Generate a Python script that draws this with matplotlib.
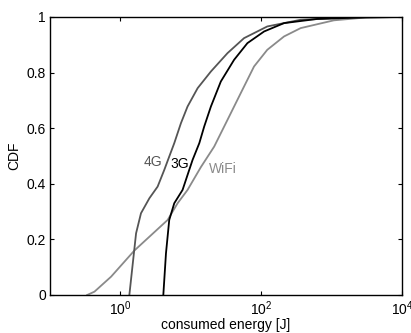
import matplotlib.pyplot as plt

plt.rcParams['font.family'] = ['Liberation Sans', 'DejaVu Sans']

# CDF curves of consumed energy per network type (energy in J, cumulative fraction)
wifi_x = [0.337, 0.428, 0.738, 1.58, 4.69, 6.49, 8.99, 13.9, 21.5, 33.2, 51.2, 79.1, 122, 211, 363, 1077, 3000, 10000]
wifi_y = [0.0, 0.012, 0.066, 0.16, 0.27, 0.33, 0.378, 0.46, 0.534, 0.63, 0.726, 0.822, 0.882, 0.93, 0.96, 0.988, 0.998, 1.0]

g4_x = [1.34, 1.50, 1.67, 1.96, 2.58, 3.38, 4.20, 4.94, 5.82, 7.24, 8.99, 12.5, 19.3, 33.2, 57.1, 122, 363, 1854, 10000]
g4_y = [0.0, 0.114, 0.222, 0.294, 0.348, 0.39, 0.45, 0.498, 0.546, 0.618, 0.678, 0.744, 0.804, 0.87, 0.924, 0.966, 0.99, 0.998, 1.0]

g3_x = [4.07, 4.44, 4.94, 5.82, 7.64, 9.50, 10.6, 13.2, 15.5, 19.3, 26.7, 41.2, 63.7, 110, 211, 625, 3190, 10000]
g3_y = [0.0, 0.15, 0.27, 0.33, 0.378, 0.45, 0.486, 0.546, 0.606, 0.678, 0.768, 0.846, 0.906, 0.948, 0.978, 0.993, 0.999, 1.0]

fig = plt.figure(figsize=(4.11, 3.33), dpi=100)
ax = fig.add_axes([50 / 411, 1 - 295 / 333, 352 / 411, 278 / 333])

ax.plot(wifi_x, wifi_y, color='#8a8a8a', lw=1.3)
ax.plot(g4_x, g4_y, color='#555555', lw=1.3)
ax.plot(g3_x, g3_y, color='black', lw=1.3)

ax.text(2.87, 0.478, '4G', color='#555555', fontsize=10, ha='center', va='center')
ax.text(6.85, 0.47, '3G', color='black', fontsize=10, ha='center', va='center')
ax.text(28.2, 0.452, 'WiFi', color='#8a8a8a', fontsize=10, ha='center', va='center')

ax.set_xscale('log')
ax.set_xlim(0.1, 1e4)
ax.set_ylim(0, 1)
ax.set_xticks([1, 100, 10000])
ax.xaxis.set_minor_locator(plt.NullLocator())
ax.set_yticks([0, 0.2, 0.4, 0.6, 0.8, 1])
ax.set_yticklabels(['0', '0.2', '0.4', '0.6', '0.8', '1'])
ax.tick_params(direction='in', top=True, right=True, length=3, labelsize=10, pad=3)
for s in ax.spines.values():
    s.set_linewidth(1.0)

ax.set_xlabel('consumed energy [J]', fontsize=10, labelpad=0)
ax.set_ylabel('CDF', fontsize=10, labelpad=4)

plt.savefig('out.png', dpi=100)
